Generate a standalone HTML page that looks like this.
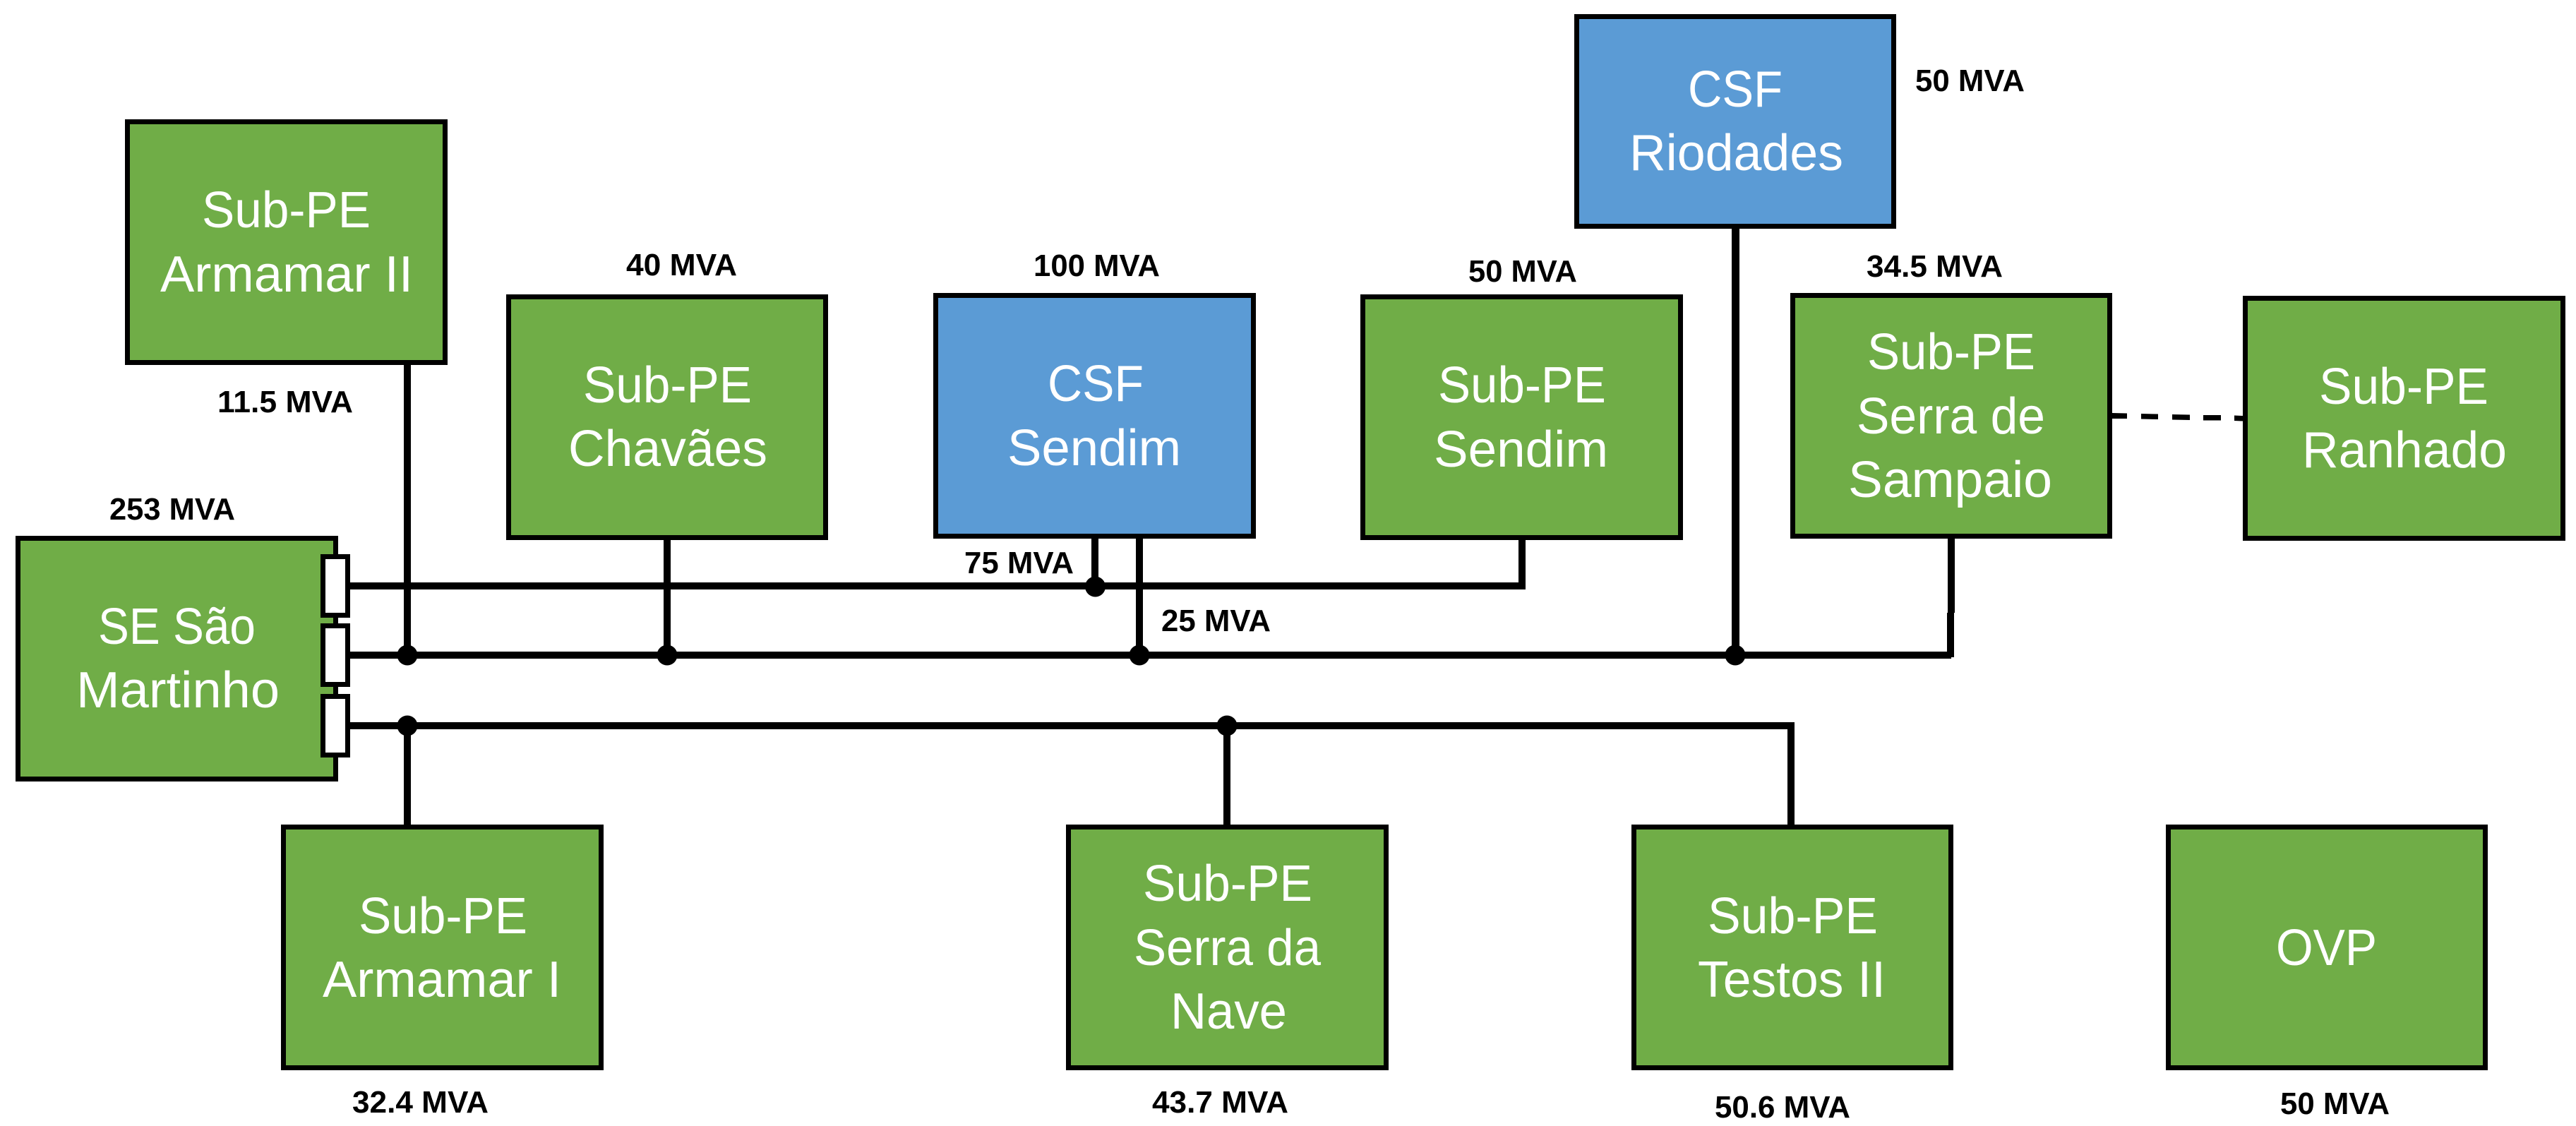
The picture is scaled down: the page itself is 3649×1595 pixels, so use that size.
<!DOCTYPE html>
<html lang="pt">
<head>
<meta charset="utf-8">
<title>Diagrama unifilar</title>
<style>
html,body{margin:0;padding:0;background:#fff;width:3649px;height:1595px;overflow:hidden}
svg{display:block}
.b{stroke:#000;stroke-width:7}
.g{fill:#70AD47}
.c{fill:#5B9BD5}
.t{fill:#fff;font-family:"Liberation Sans",sans-serif;font-size:72px}
.l{fill:#000;font-family:"Liberation Sans",sans-serif;font-size:43.5px;font-weight:bold}
</style>
</head>
<body>
<svg xmlns="http://www.w3.org/2000/svg" width="3649" height="1595" viewBox="0 0 3649 1595">
<rect width="3649" height="1595" fill="#fff"/>

<!-- connectors -->
<g fill="#000">
<rect x="496" y="825" width="1665" height="10"/>
<rect x="496" y="923" width="2268" height="10"/>
<rect x="496" y="1023" width="2046" height="10"/>
<rect x="572" y="510" width="10" height="420"/>
<rect x="572" y="1028" width="10" height="145"/>
<rect x="940" y="760" width="10" height="170"/>
<rect x="1546" y="760" width="10" height="72"/>
<rect x="1609" y="760" width="10" height="170"/>
<rect x="2151" y="762" width="10" height="69"/>
<rect x="2453" y="320" width="11" height="610"/>
<rect x="2759" y="760" width="10" height="108"/>
<rect x="2758" y="868" width="10" height="63"/>
<rect x="1733" y="1028" width="10" height="145"/>
<rect x="2532" y="1023" width="10" height="150"/>
<polygon points="2992,585 3013,585.5 3013,593 2992,593"/>
<polygon points="3033,586 3057,586.5 3057,594 3033,593.5"/>
<polygon points="3077,587 3102,587.5 3102,595 3077,594.5"/>
<polygon points="3121,588 3146,588 3146,595.5 3121,595.5"/>
<polygon points="3165,588.5 3177,589 3177,596.5 3165,596"/>
<circle cx="577" cy="928" r="14.5"/>
<circle cx="945" cy="928" r="14.5"/>
<circle cx="1614" cy="928" r="14.5"/>
<circle cx="2458" cy="928" r="14.5"/>
<circle cx="1551.5" cy="831" r="14.5"/>
<circle cx="577" cy="1028" r="14.5"/>
<circle cx="1738" cy="1028" r="14.5"/>
</g>

<!-- boxes -->
<rect class="b g" x="180.5" y="172.5" width="450" height="341"/>
<rect class="b g" x="720.5" y="420.5" width="449" height="341"/>
<rect class="b c" x="1325.5" y="418.5" width="450" height="341"/>
<rect class="b g" x="1930.5" y="420.5" width="450" height="341"/>
<rect class="b c" x="2233.5" y="23.5" width="449" height="297"/>
<rect class="b g" x="2539.5" y="418.5" width="449" height="341"/>
<rect class="b g" x="3180.5" y="422.5" width="450" height="340"/>
<rect class="b g" x="25.5" y="762.5" width="450" height="341"/>
<rect class="b g" x="401.5" y="1171.5" width="450" height="341"/>
<rect class="b g" x="1513.5" y="1171.5" width="450" height="341"/>
<rect class="b g" x="2314.5" y="1171.5" width="449" height="341"/>
<rect class="b g" x="3071.5" y="1171.5" width="449" height="341"/>

<!-- breakers -->
<rect class="b" fill="#fff" x="457.5" y="788.5" width="35" height="83"/>
<rect class="b" fill="#fff" x="457.5" y="886.5" width="35" height="83"/>
<rect class="b" fill="#fff" x="457.5" y="986.5" width="35" height="83"/>

<!-- box text -->
<text class="t" x="286" y="322" textLength="239" lengthAdjust="spacingAndGlyphs">Sub-PE</text>
<text class="t" x="227" y="413" textLength="358" lengthAdjust="spacingAndGlyphs">Armamar II</text>
<text class="t" x="826" y="570" textLength="239" lengthAdjust="spacingAndGlyphs">Sub-PE</text>
<text class="t" x="805" y="660" textLength="282" lengthAdjust="spacingAndGlyphs">Chavães</text>
<text class="t" x="1484" y="568" textLength="136" lengthAdjust="spacingAndGlyphs">CSF</text>
<text class="t" x="1427" y="659" textLength="246" lengthAdjust="spacingAndGlyphs">Sendim</text>
<text class="t" x="2037" y="570" textLength="238" lengthAdjust="spacingAndGlyphs">Sub-PE</text>
<text class="t" x="2031" y="661" textLength="247" lengthAdjust="spacingAndGlyphs">Sendim</text>
<text class="t" x="2391" y="151" textLength="134" lengthAdjust="spacingAndGlyphs">CSF</text>
<text class="t" x="2308" y="241" textLength="303" lengthAdjust="spacingAndGlyphs">Riodades</text>
<text class="t" x="2645" y="523" textLength="238" lengthAdjust="spacingAndGlyphs">Sub-PE</text>
<text class="t" x="2630" y="614" textLength="267" lengthAdjust="spacingAndGlyphs">Serra de</text>
<text class="t" x="2618" y="704" textLength="289" lengthAdjust="spacingAndGlyphs">Sampaio</text>
<text class="t" x="3285" y="572" textLength="240" lengthAdjust="spacingAndGlyphs">Sub-PE</text>
<text class="t" x="3261" y="662" textLength="290" lengthAdjust="spacingAndGlyphs">Ranhado</text>
<text class="t" x="139" y="912" textLength="223" lengthAdjust="spacingAndGlyphs">SE São</text>
<text class="t" x="108" y="1002" textLength="288" lengthAdjust="spacingAndGlyphs">Martinho</text>
<text class="t" x="508" y="1322" textLength="239" lengthAdjust="spacingAndGlyphs">Sub-PE</text>
<text class="t" x="457" y="1412" textLength="338" lengthAdjust="spacingAndGlyphs">Armamar I</text>
<text class="t" x="1619" y="1276" textLength="240" lengthAdjust="spacingAndGlyphs">Sub-PE</text>
<text class="t" x="1606" y="1367" textLength="265" lengthAdjust="spacingAndGlyphs">Serra da</text>
<text class="t" x="1658" y="1457" textLength="165" lengthAdjust="spacingAndGlyphs">Nave</text>
<text class="t" x="2419" y="1322" textLength="241" lengthAdjust="spacingAndGlyphs">Sub-PE</text>
<text class="t" x="2405" y="1412" textLength="266" lengthAdjust="spacingAndGlyphs">Testos II</text>
<text class="t" x="3224" y="1367" textLength="143" lengthAdjust="spacingAndGlyphs">OVP</text>

<!-- capacity labels -->
<text class="l" x="155" y="736" textLength="178" lengthAdjust="spacingAndGlyphs">253 MVA</text>
<text class="l" x="308" y="584" textLength="192" lengthAdjust="spacingAndGlyphs">11.5 MVA</text>
<text class="l" x="887" y="390" textLength="157" lengthAdjust="spacingAndGlyphs">40 MVA</text>
<text class="l" x="1464" y="391" textLength="179" lengthAdjust="spacingAndGlyphs">100 MVA</text>
<text class="l" x="1366" y="812" textLength="155" lengthAdjust="spacingAndGlyphs">75 MVA</text>
<text class="l" x="1645" y="894" textLength="155" lengthAdjust="spacingAndGlyphs">25 MVA</text>
<text class="l" x="2080" y="399" textLength="154" lengthAdjust="spacingAndGlyphs">50 MVA</text>
<text class="l" x="2713" y="129" textLength="155" lengthAdjust="spacingAndGlyphs">50 MVA</text>
<text class="l" x="2644" y="392" textLength="193" lengthAdjust="spacingAndGlyphs">34.5 MVA</text>
<text class="l" x="499" y="1576" textLength="193" lengthAdjust="spacingAndGlyphs">32.4 MVA</text>
<text class="l" x="1632" y="1576" textLength="193" lengthAdjust="spacingAndGlyphs">43.7 MVA</text>
<text class="l" x="2429" y="1583" textLength="192" lengthAdjust="spacingAndGlyphs">50.6 MVA</text>
<text class="l" x="3230" y="1578" textLength="155" lengthAdjust="spacingAndGlyphs">50 MVA</text>
</svg>
</body>
</html>
